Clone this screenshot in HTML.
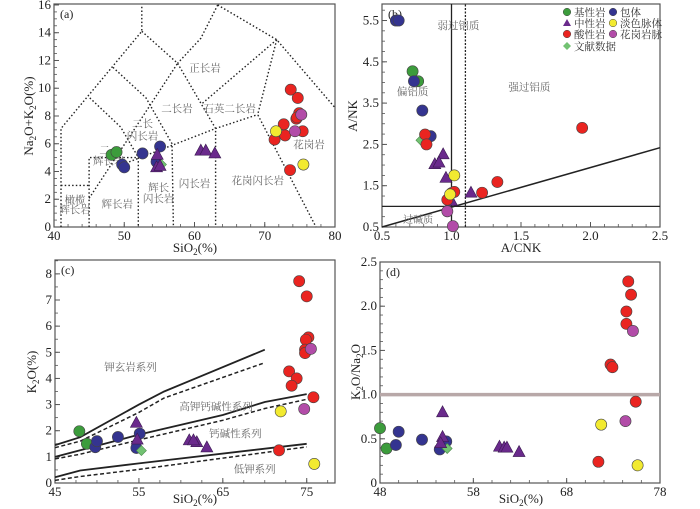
<!DOCTYPE html>
<html><head><meta charset="utf-8">
<style>
html,body{margin:0;padding:0;background:#fff;}
svg{display:block;font-family:"Liberation Serif","Noto Serif CJK SC","Noto Sans CJK SC",serif;}
.cn{font-family:"Liberation Serif","Noto Serif CJK SC",serif;font-size:10.5px;fill:#666;}
</style></head>
<body>
<svg id="chart" width="700" height="509" viewBox="0 0 700 509" xmlns="http://www.w3.org/2000/svg"></svg>
<script>
// ---------- Panel (a) TAS data ----------
const aBasic=[[48.2,5.2],[48.9,5.4]];
const aIncl=[[49.7,4.5],[50.0,4.3],[52.6,5.3],[54.6,4.7],[55.1,5.8]];
const aMid=[[54.7,5.2],[54.6,4.3],[55.1,4.4],[60.9,5.5],[61.6,5.5],[62.9,5.3]];
const aAcid=[[73.7,9.9],[74.7,9.3],[74.9,8.2],[74.5,7.8],[74.6,7.9],[72.7,7.4],[72.9,6.6],[71.4,6.3],[75.4,6.9],[73.6,4.1]];
const aLight=[[71.6,6.9],[75.5,4.5]];
const aVein=[[75.2,8.1],[74.3,6.9]];
const aLit=[[55.3,4.5]];
const aXTicks=[40,50,60,70,80];
const aYTicks=[0,2,4,6,8,10,12,14,16];
// ---------- Panel (b) A/NK vs A/CNK ----------
const bBasic=[[0.72,4.27],[0.76,4.03]];
const bIncl=[[0.60,5.5],[0.62,5.5],[0.73,4.03],[0.79,3.32],[0.85,2.70]];
const bMid=[[0.94,2.26],[0.88,2.02],[0.91,2.06],[0.96,1.69],[1.0,1.13],[1.14,1.33]];
const bAcid=[[0.81,2.74],[0.82,2.5],[0.97,1.16],[1.0,1.32],[1.02,1.35],[1.22,1.33],[1.33,1.59],[1.94,2.9]];
const bLight=[[1.02,1.75],[0.99,1.29]];
const bVein=[[0.97,0.88],[1.01,0.52]];
const bLit=[[0.78,2.6]];
const bXTicks=[0.5,1.0,1.5,2.0,2.5];
const bYTicks=[0.5,1.5,2.5,3.5,4.5,5.5];
// ---------- Panel (c) K2O vs SiO2 ----------
const cBasic=[[47.9,1.98],[48.8,1.50]];
const cIncl=[[49.8,1.37],[50.0,1.6],[52.5,1.76],[55.1,1.89],[54.7,1.34]];
const cMid=[[54.7,2.3],[54.8,1.66],[61.0,1.63],[61.9,1.56],[61.5,1.63],[63.1,1.36]];
const cAcid=[[74.1,7.72],[75.0,7.14],[75.2,5.57],[74.9,5.48],[74.8,5.1],[74.8,4.97],[72.9,4.27],[73.8,4.0],[73.2,3.72],[75.8,3.28],[71.7,1.25]];
const cLight=[[71.9,2.74],[75.9,0.73]];
const cVein=[[75.5,5.13],[74.7,2.83]];
const cLit=[[55.3,1.24]];
const cShoSolid=[[45,1.45],[48,1.75],[55,3.0],[58,3.5],[70,5.1]];
const cShoDash=[[45,1.35],[48,1.6],[55,2.7],[58,3.25],[70,4.6]];
const cHkSolid=[[45,1.0],[48,1.25],[55,1.85],[65,2.6],[70,3.1],[75,3.4]];
const cHkDash=[[45,0.92],[48,1.1],[55,1.65],[65,2.4],[70,2.85],[75,3.2]];
const cLkSolid=[[45,0.22],[48,0.48],[55,0.75],[75,1.5]];
const cLkDash=[[45,0.1],[48,0.25],[55,0.52],[75,1.38]];
const cXTicks=[45,55,65,75];
const cYTicks=[0,1,2,3,4,5,6,7,8];
// ---------- Panel (d) K2O/Na2O vs SiO2 ----------
const dBasic=[[48,0.62],[48.7,0.39]];
const dIncl=[[50,0.58],[49.7,0.43],[52.5,0.49],[55.1,0.47],[54.4,0.38]];
const dMid=[[54.7,0.80],[54.7,0.52],[54.5,0.45],[60.8,0.41],[61.3,0.40],[61.6,0.40],[62.9,0.35]];
const dAcid=[[74.6,2.28],[74.9,2.13],[74.4,1.94],[74.4,1.8],[72.7,1.34],[72.9,1.31],[75.4,0.92],[71.4,0.24]];
const dLight=[[71.7,0.66],[75.6,0.2]];
const dVein=[[75.1,1.72],[74.3,0.70]];
const dLit=[[55.2,0.39]];
const dXTicks=[48,58,68,78];
const dYTicks=[0,0.5,1.0,1.5,2.0,2.5];

const NS="http://www.w3.org/2000/svg";
const svg=document.getElementById('chart');
function mk(tag,attrs,parent){const e=document.createElementNS(NS,tag);for(const k in attrs)e.setAttribute(k,attrs[k]);(parent||svg).appendChild(e);return e;}
function scale(d0,d1,p0,p1){return v=>p0+(v-d0)/(d1-d0)*(p1-p0);}
const COL={basic:'#3c9c3c',incl:'#343490',mid:'#6a2a8c',acid:'#ea2420',light:'#f2ea30',vein:'#b24ca8',lit:'#72c272'};

function marker(g,kind,cx,cy,name){
  let el;
  if(kind==='mid'){
    el=mk('polygon',{points:`${cx},${cy-6.5} ${cx-6},${cy+4.5} ${cx+6},${cy+4.5}`,fill:COL.mid,stroke:'#3a1a50','stroke-width':0.6},g);
  }else if(kind==='lit'){
    el=mk('polygon',{points:`${cx},${cy-5} ${cx+5},${cy} ${cx},${cy+5} ${cx-5},${cy}`,fill:COL.lit,stroke:'#4a8a4a','stroke-width':0.6},g);
  }else{
    el=mk('circle',{cx:cx,cy:cy,r:5.6,fill:COL[kind],stroke:'#444','stroke-width':0.6},g);
  }
  
  
}

function panel(p){
  const g=mk('g',{});
  
  
  const X=scale(p.x0,p.x1,p.L,p.R), Y=scale(p.y0,p.y1,p.B,p.T);
  const fr=mk('rect',{x:p.L,y:p.T,width:p.R-p.L,height:p.B-p.T,fill:'none',stroke:'#555','stroke-width':1.2},g);
  
  
  for(let v=p.x0;v<=p.x1+1e-9;v+=p.xMinor){const px=X(v);
    const t=mk('line',{x1:px,x2:px,y1:p.B,y2:p.B-3,stroke:'#555','stroke-width':0.8},g);
    
    }
  for(let v=p.y0;v<=p.y1+1e-9;v+=p.yMinor){const py=Y(v);
    const t=mk('line',{x1:p.L,x2:p.L+3,y1:py,y2:py,stroke:'#555','stroke-width':0.8},g);
    
    }
  p.xt.forEach(v=>{const px=X(v);
    const t=mk('line',{x1:px,x2:px,y1:p.B,y2:p.B-5,stroke:'#555','stroke-width':1},g);
    
    
    const tx=mk('text',{x:px,y:p.B+13,'text-anchor':'middle','font-size':13,fill:'#222'},g);
    tx.textContent=p.xfmt?p.xfmt(v):v;
    
    });
  p.yt.forEach(v=>{const py=Y(v);
    const t=mk('line',{x1:p.L,x2:p.L+5,y1:py,y2:py,stroke:'#555','stroke-width':1},g);
    
    
    const tx=mk('text',{x:p.L-3,y:py+4,'text-anchor':'end','font-size':13,fill:'#222'},g);
    tx.textContent=p.yfmt?p.yfmt(v):v;
    
    });
  const lab=mk('text',{x:p.L+6,y:p.T+14,'font-size':12,fill:'#222'},g);
  lab.textContent=p.label;
  
  
  return {g,X,Y};
}
function polyline(P,pts,opts,name){
  const d=pts.map(q=>P.X(q[0]).toFixed(1)+','+P.Y(q[1]).toFixed(1)).join(' ');
  const el=mk('polyline',Object.assign({points:d,fill:'none'},opts),P.g);
  
  
}
function series(P,arrs){
  const kinds=['basic','incl','mid','acid','light','vein','lit'];
  const names=['basic-rock-point','inclusion-point','intermediate-rock-point','acid-rock-point','light-vein-point','granite-vein-point','literature-point'];
  [0,1,6,2,3,4,5].forEach(i=>arrs[i].forEach(q=>marker(P.g,kinds[i],P.X(q[0]),P.Y(q[1]),names[i])));
}
function cnText(P,x,y,str,name,size){
  const t=mk('text',{x:P.X(x),y:P.Y(y),'text-anchor':'middle',class:'cn'},P.g);
  if(size)t.setAttribute('style','font-size:'+size+'px');
  t.textContent=str;
  
  
}
function axisTitle(x,y,html,name,rot){
  const t=mk('text',{x:x,y:y,'text-anchor':'middle','font-size':13,fill:'#222'});
  if(rot)t.setAttribute('transform',`rotate(-90 ${x} ${y})`);
  t.innerHTML=html;
  
  
}

// ===== Panel a =====
const A=panel({name:'tas-panel-a',x0:40,x1:80,y0:0,y1:16.07,L:54,R:335,T:4,B:227,xMinor:2,yMinor:0.5,xt:aXTicks,yt:aYTicks,label:'(a)'});
const dot={stroke:'#222','stroke-width':1.4,'stroke-dasharray':'1.5,2.2'};
const tasLines=[
 [[41,0],[41,7.1],[52.5,14.1],[52.5,16]],
 [[63.3,16],[60.9,13.6],[57.6,11.8]],
 [[52.5,14.1],[57.6,11.8],[63,7.1],[63,0]],
 [[48.4,11.5],[53.1,9.3],[56.8,6.0],[57,0]],
 [[45.1,9.3],[49.5,7.2],[51.9,5.1]],
 [[45,0],[45,5],[52,5],[52,0]],
 [[41,3],[45,3]],
 [[45,2.07],[57.6,11.8]],
 [[50.2,4.6],[63,7.1],[69,8.1]],
 [[63.3,16],[71.7,13.5],[80,8.6]],
 [[71.7,13.5],[69,8.1],[77.3,0]],
 [[71.7,13.5],[61.1,8.9]]
];
tasLines.forEach(l=>polyline(A,l,dot,'tas-field-boundary'));
cnText(A,61.5,11.2,'正长岩','field-syenite');
cnText(A,57.5,8.3,'二长岩','field-monzonite');
cnText(A,65,8.3,'石英二长岩','field-quartz-monzonite');
cnText(A,52.6,7.2,'二长','field-monzodiorite');
cnText(A,52.6,6.3,'闪长岩','field-monzodiorite-2');
cnText(A,47.2,5.3,'二','field-monzogabbro');
cnText(A,47.8,4.5,'辉长岩','field-monzogabbro-2');
cnText(A,76.3,5.7,'花岗岩','field-granite');
cnText(A,69,3.1,'花岗闪长岩','field-granodiorite');
cnText(A,60,2.9,'闪长岩','field-diorite');
cnText(A,54.9,2.6,'辉长','field-gabbrodiorite');
cnText(A,54.9,1.8,'闪长岩','field-gabbrodiorite-2');
cnText(A,49,1.4,'辉长岩','field-gabbro');
cnText(A,43,1.7,'橄榄','field-peridotgabbro');
cnText(A,43,1.0,'辉长岩','field-peridotgabbro-2');
series(A,[aBasic,aIncl,aMid,aAcid,aLight,aVein,aLit]);
axisTitle(195,252,'SiO<tspan font-size="9" dy="3">2</tspan><tspan dy="-3">(%)</tspan>','x-axis-title-a');
axisTitle(33,116,'Na<tspan font-size="9" dy="3">2</tspan><tspan dy="-3">O+K</tspan><tspan font-size="9" dy="3">2</tspan><tspan dy="-3">O(%)</tspan>','y-axis-title-a',true);

// ===== Panel b =====
const B=panel({name:'shand-panel-b',x0:0.5,x1:2.5,y0:0.5,y1:5.9,L:382,R:660,T:4,B:227,xMinor:0.1,yMinor:0.25,xt:bXTicks,yt:bYTicks,label:'(b)',xfmt:v=>v.toFixed(1),yfmt:v=>v.toFixed(1)});
polyline(B,[[1.0,0.5],[1.0,5.9]],{stroke:'#222','stroke-width':1.3},'metaluminous-boundary');
polyline(B,[[1.1,0.5],[1.1,5.9]],{stroke:'#222','stroke-width':1.3,'stroke-dasharray':'2,1.5'},'peraluminous-boundary');
polyline(B,[[0.5,1.0],[2.5,1.0]],{stroke:'#222','stroke-width':1.3},'peralkaline-boundary');
polyline(B,[[0.5,0.5],[2.5,2.42]],{stroke:'#222','stroke-width':1.5},'diagonal-boundary');
cnText(B,1.05,5.3,'弱过铝质','field-weakly-peraluminous');
cnText(B,0.72,3.7,'偏铝质','field-metaluminous');
cnText(B,1.56,3.8,'强过铝质','field-strongly-peraluminous');
cnText(B,0.76,0.6,'过碱质','field-peralkaline',10);
series(B,[bBasic,bIncl,bMid,bAcid,bLight,bVein,bLit]);
axisTitle(521,252,'A/CNK','x-axis-title-b');
axisTitle(357,116,'A/NK','y-axis-title-b',true);
const legItems=[['basic',567,12,'基性岩'],['incl',613,12,'包体'],['mid',567,23,'中性岩'],['light',613,23,'淡色脉体'],['acid',567,34,'酸性岩'],['vein',613,34,'花岗岩脉'],['lit',567,46,'文献数据']];
const lg=mk('g',{});


legItems.forEach(it=>{
  const k=it[0],x=it[1],y=it[2];let m;
  if(k==='mid'){m=mk('polygon',{points:`${x},${y-4} ${x-4},${y+3} ${x+4},${y+3}`,fill:COL.mid},lg);}
  else if(k==='lit'){m=mk('polygon',{points:`${x},${y-4} ${x+4},${y} ${x},${y+4} ${x-4},${y}`,fill:COL.lit},lg);}
  else{m=mk('circle',{cx:x,cy:y,r:3.8,fill:COL[k],stroke:'#444','stroke-width':0.5},lg);}
  
  
  const t=mk('text',{x:x+7,y:y+4,class:'cn'},lg);
  t.setAttribute('style','fill:#333;font-size:10.5px');
  t.textContent=it[3];
  
  
});

// ===== Panel c =====
const C=panel({name:'k2o-panel-c',x0:45,x1:78.37,y0:0,y1:8.53,L:55,R:335,T:260,B:483,xMinor:2.5,yMinor:0.5,xt:cXTicks,yt:cYTicks,label:'(c)'});
polyline(C,cShoSolid,{stroke:'#222','stroke-width':1.8},'shoshonite-boundary-solid');
polyline(C,cShoDash,{stroke:'#222','stroke-width':1.5,'stroke-dasharray':'4,2.5'},'shoshonite-boundary-dashed');
polyline(C,cHkSolid,{stroke:'#222','stroke-width':1.8},'high-k-boundary-solid');
polyline(C,cHkDash,{stroke:'#222','stroke-width':1.5,'stroke-dasharray':'4,2.5'},'high-k-boundary-dashed');
polyline(C,cLkSolid,{stroke:'#222','stroke-width':1.8},'low-k-boundary-solid');
polyline(C,cLkDash,{stroke:'#222','stroke-width':1.5,'stroke-dasharray':'4,2.5'},'low-k-boundary-dashed');
cnText(C,54,4.3,'钾玄岩系列','field-shoshonite');
cnText(C,64.2,2.8,'高钾钙碱性系列','field-high-k-calc-alkaline');
cnText(C,66.5,1.75,'钙碱性系列','field-calc-alkaline');
cnText(C,68.8,0.4,'低钾系列','field-low-k');
series(C,[cBasic,cIncl,cMid,cAcid,cLight,cVein,cLit]);
axisTitle(195,503,'SiO<tspan font-size="9" dy="3">2</tspan><tspan dy="-3">(%)</tspan>','x-axis-title-c');
axisTitle(36,372,'K<tspan font-size="9" dy="3">2</tspan><tspan dy="-3">O(%)</tspan>','y-axis-title-c',true);

// ===== Panel d =====
const D=panel({name:'ratio-panel-d',x0:48,x1:78,y0:0,y1:2.5,L:380,R:660,T:262,B:483,xMinor:2,yMinor:0.1,xt:dXTicks,yt:dYTicks,label:'(d)',yfmt:v=>v===0?'0':v.toFixed(1)});
polyline(D,[[48,1.0],[78,1.0]],{stroke:'#b8a8a8','stroke-width':3.5},'ratio-one-line');
series(D,[dBasic,dIncl,dMid,dAcid,dLight,dVein,dLit]);
axisTitle(521,503,'SiO<tspan font-size="9" dy="3">2</tspan><tspan dy="-3">(%)</tspan>','x-axis-title-d');
axisTitle(360,372,'K<tspan font-size="9" dy="3">2</tspan><tspan dy="-3">O/Na</tspan><tspan font-size="9" dy="3">2</tspan><tspan dy="-3">O</tspan>','y-axis-title-d',true);
</script>
</body></html>
